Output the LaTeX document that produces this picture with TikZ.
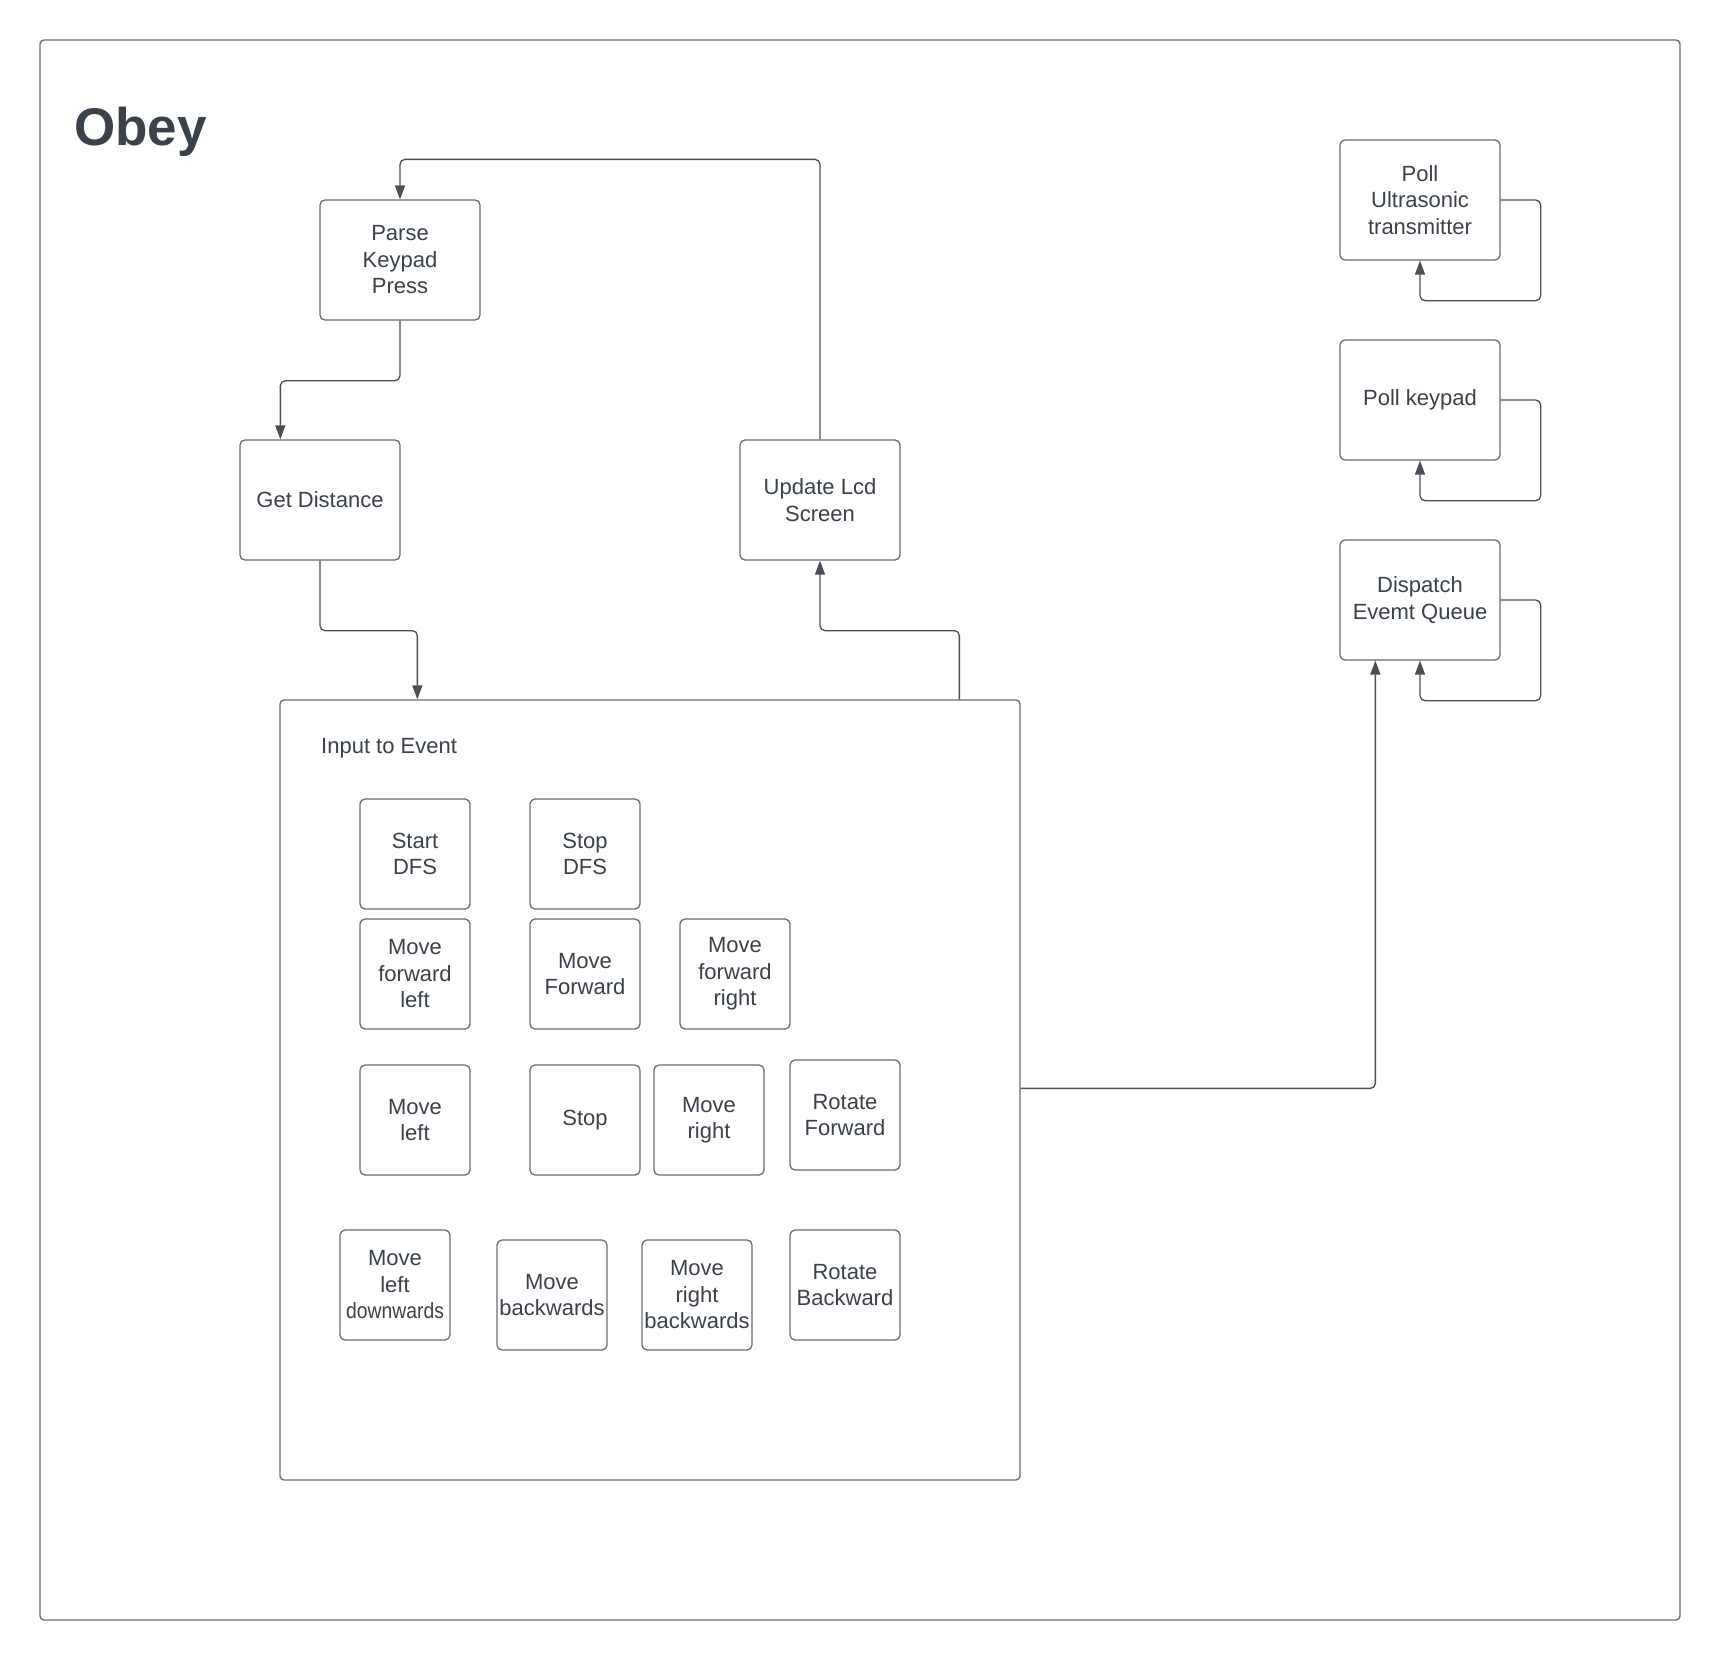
\documentclass[tikz,border=0pt]{standalone}
\usepackage{fontspec}
\setmainfont{Liberation Sans}
\usetikzlibrary{arrows.meta,calc}
\definecolor{txt}{HTML}{3A414A}
\definecolor{ln}{HTML}{6A6D72}
\definecolor{con}{HTML}{4A4F57}
\begin{document}
\begin{tikzpicture}[x=1pt,y=-1pt,
  box/.style={draw=ln, line width=1.3pt, rounded corners=5pt, align=center, text=txt,
    font=\fontsize{22}{26.5}\selectfont, inner sep=1pt},
  big/.style={box, minimum width=160pt, minimum height=120pt},
  small/.style={box, minimum width=110pt, minimum height=110pt},
  arr/.style={draw=con, line width=1.3pt, rounded corners=5pt, -{Triangle[length=14pt,width=10pt]}},
  plain/.style={draw=con, line width=1.3pt, rounded corners=5pt}]
\useasboundingbox[fill=white] (0,0) rectangle (1720,1660);
% outer frame
\draw[draw=ln, line width=1.3pt, rounded corners=4pt] (40,40) rectangle (1680,1620);
\node[anchor=base west, inner sep=0pt, text=txt, font=\fontsize{53}{60}\selectfont\bfseries] (title) at (74,145) {Obey};

% main flow nodes
\node[big] (pk) at (400,260) {Parse\\Keypad\\Press};
\node[big] (gd) at (320,500) {Get Distance};
\node[big] (upd) at (820,500) {Update Lcd\\Screen};

% right column
\node[big] (pu) at (1420,200) {Poll\\Ultrasonic\\transmitter};
\node[big] (pkp) at (1420,400) {Poll keypad};
\node[big] (dq) at (1420,600) {Dispatch\\Evemt Queue};

% container
\node[draw=ln, line width=1.3pt, rounded corners=4pt, minimum width=740pt, minimum height=780pt, inner sep=0pt] (ite) at (650,1090) {};
\node[anchor=west, inner sep=0pt, text=txt, font=\fontsize{22}{26.5}\selectfont] (itelbl) at (321,748) {Input to Event};

% inner boxes
\node[small] (sdfs) at (415,854) {Start\\DFS};
\node[small] (tdfs) at (585,854) {Stop\\DFS};
\node[small] (mfl) at (415,974) {Move\\forward\\left};
\node[small] (mf) at (585,974) {Move\\Forward};
\node[small] (mfr) at (735,974) {Move\\forward\\right};
\node[small] (ml) at (415,1120) {Move\\left};
\node[small] (st) at (585,1120) {Stop};
\node[small] (mr) at (709,1120) {Move\\right};
\node[small] (rf) at (845,1115) {Rotate\\Forward};
\node[small] (mld) at (395,1285) {Move\\left\\\scalebox{0.88}[1]{downwards}};
\node[small] (mb) at (552,1295) {Move\\backwards};
\node[small] (mrb) at (697,1295) {Move\\right\\backwards};
\node[small] (rb) at (845,1285) {Rotate\\Backward};

% connectors
\draw[arr] (upd.north) |- ($(pk.north)+(0,-40)$) -- (pk.north);
\draw[arr] (pk.south) -- ++(0,60) -| ($(gd.north west)+(41,0)$);
\draw[arr] (gd.south) -- ++(0,70) -| ($(ite.north west)+(138,0)$);
\draw[arr] ($(ite.north west)+(680,0)$) |- ($(upd.south)+(0,70)$) -- (upd.south);
\draw[arr] ($(ite.north east)+(0,389)$) -| ($(dq.south west)+(36,0)$);

% self loops
\draw[arr] (pu.east) -- ++(40,0) |- ($(pu.south)+(0,40)$) -- (pu.south);
\draw[arr] (pkp.east) -- ++(40,0) |- ($(pkp.south)+(0,40)$) -- (pkp.south);
\draw[arr] (dq.east) -- ++(40,0) |- ($(dq.south)+(0,40)$) -- (dq.south);
\end{tikzpicture}
\end{document}
